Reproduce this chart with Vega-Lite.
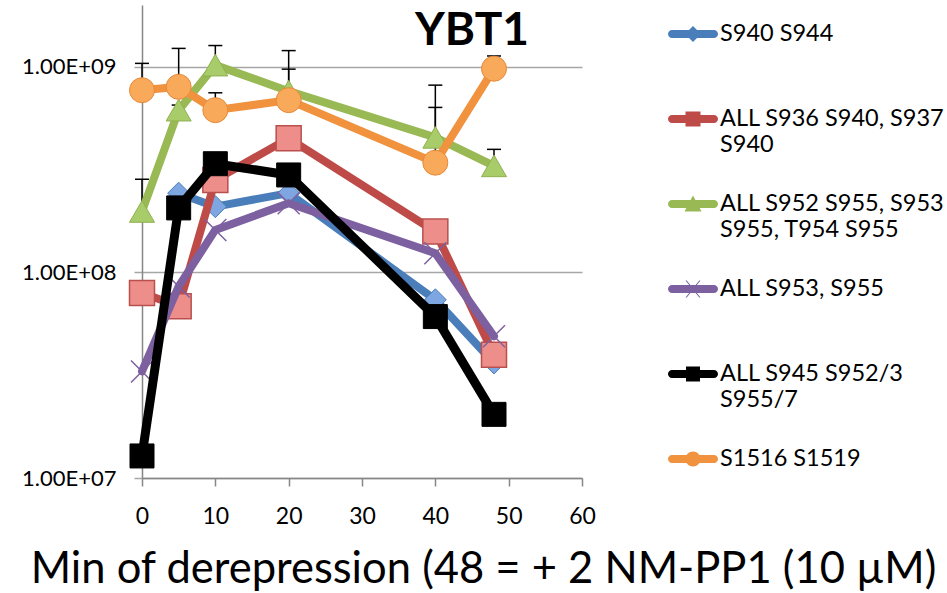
{
  "$schema": "https://vega.github.io/schema/vega-lite/v6.json",
  "width": 440,
  "height": 473,
  "autosize": {"type": "none"},
  "padding": {"left": 142, "top": 5, "right": 365, "bottom": 115},
  "background": "white",
  "config": {"font": "Lato", "view": {"stroke": null}},
  "title": {"text": "YBT1", "fontSize": 46, "fontWeight": "bold", "font": "Lato", "color": "black", "anchor": "start", "frame": "group", "offset": -86, "dx": 273, "baseline": "alphabetic"},
  "data": {"values": [
    {"series": "S940 S944", "x": 5, "y": 243000000},
    {"series": "S940 S944", "x": 10, "y": 209000000},
    {"series": "S940 S944", "x": 20, "y": 243000000},
    {"series": "S940 S944", "x": 40, "y": 73600000},
    {"series": "S940 S944", "x": 48, "y": 36300000},
    {"series": "ALL S936 S940, S937 S940", "x": 0, "y": 79400000},
    {"series": "ALL S936 S940, S937 S940", "x": 5, "y": 68400000},
    {"series": "ALL S936 S940, S937 S940", "x": 10, "y": 282000000},
    {"series": "ALL S936 S940, S937 S940", "x": 20, "y": 449000000},
    {"series": "ALL S936 S940, S937 S940", "x": 40, "y": 158000000},
    {"series": "ALL S936 S940, S937 S940", "x": 48, "y": 39800000},
    {"series": "ALL S952 S955, S953 S955, T954 S955", "x": 0, "y": 198000000, "err": 284000000},
    {"series": "ALL S952 S955, S953 S955, T954 S955", "x": 5, "y": 616000000, "err": 652000000},
    {"series": "ALL S952 S955, S953 S955, T954 S955", "x": 10, "y": 1020000000, "err": 1270000000},
    {"series": "ALL S952 S955, S953 S955, T954 S955", "x": 20, "y": 762000000, "err": 1200000000},
    {"series": "ALL S952 S955, S953 S955, T954 S955", "x": 40, "y": 454000000, "err": 815000000},
    {"series": "ALL S952 S955, S953 S955, T954 S955", "x": 48, "y": 330000000, "err": 397000000},
    {"series": "ALL S953, S955", "x": 0, "y": 33000000},
    {"series": "ALL S953, S955", "x": 5, "y": 85500000},
    {"series": "ALL S953, S955", "x": 10, "y": 161000000},
    {"series": "ALL S953, S955", "x": 20, "y": 217000000},
    {"series": "ALL S953, S955", "x": 40, "y": 124000000},
    {"series": "ALL S953, S955", "x": 48, "y": 48900000},
    {"series": "ALL S945 S952/3 S955/7", "x": 0, "y": 12800000},
    {"series": "ALL S945 S952/3 S955/7", "x": 5, "y": 206000000},
    {"series": "ALL S945 S952/3 S955/7", "x": 10, "y": 338000000},
    {"series": "ALL S945 S952/3 S955/7", "x": 20, "y": 298000000},
    {"series": "ALL S945 S952/3 S955/7", "x": 40, "y": 61000000},
    {"series": "ALL S945 S952/3 S955/7", "x": 48, "y": 20400000},
    {"series": "S1516 S1519", "x": 0, "y": 770000000, "err": 1040000000},
    {"series": "S1516 S1519", "x": 5, "y": 800000000, "err": 1230000000},
    {"series": "S1516 S1519", "x": 10, "y": 616000000, "err": 748000000},
    {"series": "S1516 S1519", "x": 20, "y": 689000000, "err": 975000000},
    {"series": "S1516 S1519", "x": 40, "y": 342000000, "err": 635000000},
    {"series": "S1516 S1519", "x": 48, "y": 980000000, "err": 1130000000}
  ]},
  "encoding": {
    "x": {"field": "x", "type": "quantitative",
      "scale": {"domain": [0, 60], "nice": false, "zero": false},
      "axis": {"values": [0, 10, 20, 30, 40, 50, 60], "grid": false, "domainColor": "#868686", "domainWidth": 1.5, "tickColor": "#868686", "tickWidth": 1.5, "tickSize": 8, "labelFontSize": 23, "labelColor": "black", "labelPadding": 19, "labelFlush": false,
        "title": "Min of derepression (48 = + 2 NM-PP1 (10 µM)", "titleFontSize": 43.5, "titleFontWeight": "normal", "titleColor": "black", "titleX": 341, "titleY": 104, "titleAlign": "center", "titleBaseline": "alphabetic", "titleAnchor": null}},
    "y": {"field": "y", "type": "quantitative",
      "scale": {"type": "log", "domain": [10000000, 2000000000], "nice": false},
      "axis": {"values": [10000000, 100000000, 1000000000], "grid": true, "gridColor": "#a6a6a6", "gridWidth": 1.5, "domainColor": "#868686", "domainWidth": 1.5, "tickColor": "#a6a6a6", "tickWidth": 1.5, "tickSize": 8, "labelFontSize": 22, "labelColor": "black", "labelPadding": 18, "title": null,
        "labelExpr": "'1.00E+' + (round(log(datum.value)/LN10) < 10 ? '0' : '') + round(log(datum.value)/LN10)"}}
  },
  "layer": [
    {"transform": [{"filter": "isValid(datum.err)"}],
     "mark": {"type": "rule", "color": "black", "strokeWidth": 1.5},
     "encoding": {"y2": {"field": "err"}}},
    {"transform": [{"filter": "isValid(datum.err)"}],
     "mark": {"type": "point", "shape": "stroke", "stroke": "black", "strokeWidth": 1.5, "size": 196, "opacity": 1},
     "encoding": {"y": {"field": "err", "type": "quantitative"}}},

    {"transform": [{"filter": "datum.series == 'S940 S944'"}],
     "layer": [
       {"mark": {"type": "line", "color": "#4A7EBB", "strokeWidth": 8, "strokeCap": "round", "strokeJoin": "round"}},
       {"mark": {"type": "point", "shape": "diamond", "filled": true, "fill": "#7EA6E0", "stroke": "#4A7EBB", "strokeWidth": 1, "size": 484, "opacity": 1}}
     ]},
    {"transform": [{"filter": "datum.series == 'ALL S936 S940, S937 S940'"}],
     "layer": [
       {"mark": {"type": "line", "color": "#BE4B48", "strokeWidth": 8, "strokeCap": "round", "strokeJoin": "round"}},
       {"mark": {"type": "point", "shape": "square", "filled": true, "fill": "#EE8E8B", "stroke": "#B9504D", "strokeWidth": 1.5, "size": 625, "opacity": 1}}
     ]},
    {"transform": [{"filter": "datum.series == 'ALL S952 S955, S953 S955, T954 S955'"}],
     "layer": [
       {"mark": {"type": "line", "color": "#98B954", "strokeWidth": 8, "strokeCap": "round", "strokeJoin": "round"}},
       {"mark": {"type": "point", "shape": "triangle-up", "filled": true, "fill": "#A9CC6A", "stroke": "#8FB04F", "strokeWidth": 1, "size": 625, "opacity": 1}}
     ]},
    {"transform": [{"filter": "datum.series == 'ALL S953, S955'"}],
     "layer": [
       {"mark": {"type": "line", "color": "#7D60A0", "strokeWidth": 8, "strokeCap": "round", "strokeJoin": "round"}},
       {"mark": {"type": "point", "shape": "M-1,-1L1,1M1,-1L-1,1", "filled": false, "stroke": "#7D60A0", "strokeWidth": 1.5, "size": 484, "opacity": 1}}
     ]},
    {"transform": [{"filter": "datum.series == 'ALL S945 S952/3 S955/7'"}],
     "layer": [
       {"mark": {"type": "line", "color": "#000000", "strokeWidth": 9, "strokeCap": "round", "strokeJoin": "round"}},
       {"mark": {"type": "point", "shape": "square", "filled": true, "fill": "#000000", "stroke": "#000000", "strokeWidth": 1, "size": 576, "opacity": 1}}
     ]},
    {"transform": [{"filter": "datum.series == 'S1516 S1519'"}],
     "layer": [
       {"mark": {"type": "line", "color": "#F0923E", "strokeWidth": 8, "strokeCap": "round", "strokeJoin": "round"}},
       {"mark": {"type": "point", "shape": "circle", "filled": true, "fill": "#F9A95A", "stroke": "#E8893A", "strokeWidth": 1, "size": 625, "opacity": 1}}
     ]},

    {"transform": [{"filter": "false"}],
     "mark": {"type": "point", "filled": true, "opacity": 1, "size": 2500},
     "encoding": {
       "color": {"field": "series", "type": "nominal",
         "scale": {"domain": ["S940 S944", "ALL S936 S940, S937 S940", "ALL S952 S955, S953 S955, T954 S955", "ALL S953, S955", "ALL S945 S952/3 S955/7", "S1516 S1519"],
                   "range": ["#4A7EBB", "#BE4B48", "#98B954", "#7D60A0", "#000000", "#F0923E"]},
         "legend": {"orient": "none", "legendX": 526, "legendY": 4, "title": null, "labelFontSize": 23.5, "labelColor": "black", "labelLimit": 400, "symbolSize": 2500, "symbolStrokeWidth": 0, "labelOffset": 2, "rowPadding": 0, "labelBaseline": "middle",
           "encoding": {"labels": {"update": {"lineHeight": {"value": 32}}}},
           "labelExpr": "datum.label == 'ALL S936 S940, S937 S940' ? ['ALL S936 S940, S937', 'S940'] : datum.label == 'ALL S952 S955, S953 S955, T954 S955' ? ['ALL S952 S955, S953', 'S955, T954 S955'] : datum.label == 'ALL S945 S952/3 S955/7' ? ['ALL S945 S952/3', 'S955/7'] : datum.label"}},
       "shape": {"field": "series", "type": "nominal",
         "scale": {"domain": ["S940 S944", "ALL S936 S940, S937 S940", "ALL S952 S955, S953 S955, T954 S955", "ALL S953, S955", "ALL S945 S952/3 S955/7", "S1516 S1519"],
                   "range": [
                     "M-0.84,-0.16H0.84A0.16,0.16 0 0,1 0.84,0.16H-0.84A0.16,0.16 0 0,1 -0.84,-0.16Z M0,-0.32L0.32,0L0,0.32L-0.32,0Z M0,2.4",
                     "M-0.84,-0.16H0.84A0.16,0.16 0 0,1 0.84,0.16H-0.84A0.16,0.16 0 0,1 -0.84,-0.16Z M-0.3,-0.3H0.3V0.3H-0.3Z M0,2.4",
                     "M-0.84,-0.16H0.84A0.16,0.16 0 0,1 0.84,0.16H-0.84A0.16,0.16 0 0,1 -0.84,-0.16Z M0,-0.34L0.34,0.3H-0.34Z M0,2.4",
                     "M-0.84,-0.16H0.84A0.16,0.16 0 0,1 0.84,0.16H-0.84A0.16,0.16 0 0,1 -0.84,-0.16Z M-0.3,-0.34L-0.25,-0.34L0.3,0.34L0.25,0.34Z M0.25,-0.34L0.3,-0.34L-0.25,0.34L-0.3,0.34Z M0,2.4",
                     "M-0.84,-0.16H0.84A0.16,0.16 0 0,1 0.84,0.16H-0.84A0.16,0.16 0 0,1 -0.84,-0.16Z M-0.28,-0.3H0.28V0.3H-0.28Z M0,2.4",
                     "M-0.84,-0.16H0.84A0.16,0.16 0 0,1 0.84,0.16H-0.84A0.16,0.16 0 0,1 -0.84,-0.16Z M0.3,0A0.3,0.3 0 1,1 -0.3,0A0.3,0.3 0 1,1 0.3,0Z M0,2.4"
                   ]},
         "legend": {"orient": "none", "legendX": 526, "legendY": 4, "title": null, "labelFontSize": 23.5, "labelColor": "black", "labelLimit": 400, "symbolSize": 2500, "symbolStrokeWidth": 0, "labelOffset": 2, "rowPadding": 0, "labelBaseline": "middle",
           "encoding": {"labels": {"update": {"lineHeight": {"value": 32}}}},
           "labelExpr": "datum.label == 'ALL S936 S940, S937 S940' ? ['ALL S936 S940, S937', 'S940'] : datum.label == 'ALL S952 S955, S953 S955, T954 S955' ? ['ALL S952 S955, S953', 'S955, T954 S955'] : datum.label == 'ALL S945 S952/3 S955/7' ? ['ALL S945 S952/3', 'S955/7'] : datum.label"}}
     }}
  ]
}
